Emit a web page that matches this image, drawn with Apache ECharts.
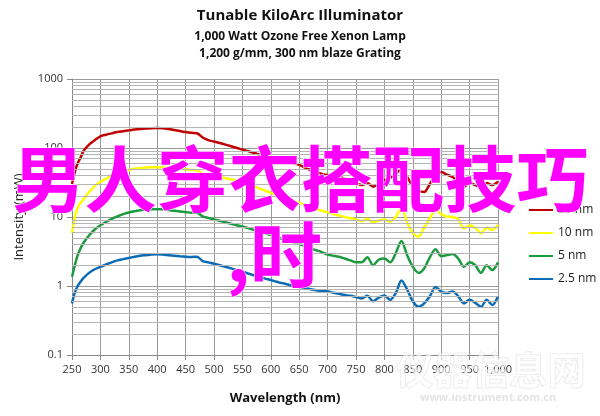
<!DOCTYPE html>
<html>
<head>
<meta charset="utf-8">
<script src="https://cdn.jsdelivr.net/npm/echarts@6/dist/echarts.min.js"></script>
<style>html,body{margin:0;padding:0;background:#fff}#c{width:600px;height:416px}</style>
</head>
<body>
<div id="c"></div>
<script>
var wavelengths = [250,255,260,265,270,280,290,300,310,320,330,340,350,360,370,380,390,400,410,420,430,440,450,460,470,480,490,500,510,520,530,540,550,560,570,580,590,600,610,620,630,640,650,660,670,680,690,700,710,720,730,740,750,760,770,780,790,800,810,820,830,840,850,860,870,880,890,900,910,920,930,940,950,960,970,980,990,1000];
var red20 = [30,45,60,72,90,112,130,148,156,163,170,175,180,185,189,192,194,195,193,188,182,176,170,166,164,142,130,124,118,112,106,100,95,90,85,80,77,74,70,66,63,60,57,52,48,45,42,40.5,39.5,38.5,36,33,31,29,31,27.5,30,34,37,42,50,38,28,24,23,30,40,45,41,38,32,27.5,31,29,27,31,29,32.5];
var yellow10 = [5.8,10,13.5,16,18,23,28,32.5,36,40,43,46,48,50,51,52,52.5,52.5,52,51.5,51,50,49,48,47.5,43,41,39.5,38,36.5,35,33.5,32,30,28,26,24,22.5,21,19.5,18,17,16,15,14,13,12.3,11.7,11,10.5,10,9.6,9.2,8.7,9.4,8.3,8.9,9.2,8.6,10,13.5,8.5,5.8,5.2,7.0,9.5,12.7,11,10.1,10,9.3,6.8,7.5,7.0,5.8,7.0,6.5,7.7];
var green5 = [1.36,2.0,2.8,3.5,4.2,5.4,6.6,7.6,8.5,9.4,10.2,11.0,11.6,12.1,12.5,12.8,12.9,13.0,12.9,12.6,12.3,12.0,11.8,11.5,11.5,10.2,9.7,9.2,8.8,8.4,8.0,7.6,7.3,6.9,6.5,6.1,5.8,5.5,5.1,4.8,4.5,4.3,4.1,3.8,3.5,3.3,3.1,2.85,2.75,2.65,2.5,2.35,2.2,2.2,2.6,2.0,2.4,2.5,2.2,3.0,4.5,2.8,1.9,1.55,1.8,2.6,3.4,2.7,2.8,2.9,2.5,1.9,2.2,2.0,1.55,2.0,1.7,2.2];
var blue25 = [0.56,0.8,1.0,1.15,1.3,1.55,1.75,1.9,2.05,2.2,2.35,2.45,2.55,2.65,2.75,2.8,2.85,2.88,2.85,2.8,2.75,2.7,2.66,2.64,2.66,2.3,2.2,2.1,2.0,1.9,1.8,1.7,1.62,1.52,1.43,1.35,1.28,1.22,1.15,1.1,1.05,1.0,0.97,0.94,0.9,0.87,0.85,0.83,0.8,0.77,0.74,0.72,0.69,0.66,0.72,0.6,0.68,0.73,0.63,0.79,1.2,0.89,0.6,0.5,0.56,0.71,0.97,0.83,0.79,0.83,0.71,0.56,0.63,0.57,0.5,0.63,0.53,0.71];
var seriesNames = ['20 nm','10 nm','5 nm','2.5 nm'];
var minorGrid = [0.2,0.3,0.4,0.5,0.6,0.7,0.8,0.9,2,3,4,5,6,7,8,9,20,30,40,50,60,70,80,90,200,300,400,500,600,700,800,900];
var titleLines = ['Tunable KiloArc Illuminator','1,000 Watt Ozone Free Xenon Lamp','1,200 g/mm, 300 nm blaze Grating'];
var overlayLine1 = '男人穿衣搭配技巧';
var overlayLine2 = ',时';

function pairs(vals){ return wavelengths.map(function(w,i){ return [w, vals[i]]; }); }
var colors = ['#c00000','#ffff00','#1c9a3e','#0b6bb5'];
var valueSets = [red20, yellow10, green5, blue25];

var chart = echarts.init(document.getElementById('c'), null, {renderer:'canvas'});
var series = [{
  name: 'grid', type: 'line', data: [], silent: true,
  markLine: { silent: true, symbol: 'none', label: {show:false}, animation:false,
    lineStyle: {color:'#b4b4b4', width:1, type:'solid'},
    data: minorGrid.map(function(v){ return {yAxis: v}; }) }
}];
seriesNames.forEach(function(n,i){
  series.push({ name:n, type:'line', data: pairs(valueSets[i]), showSymbol:false, symbol:'none',
    smooth: 0.3, lineStyle:{color:colors[i], width:2.5}, itemStyle:{color:colors[i]}, z:3, animation:false });
});
chart.setOption({
  animation: false,
  textStyle: {fontFamily: 'Open Sans'},
  grid: {left:72, right:102, top:79, bottom:61, containLabel:false},
  legend: {data: seriesNames, orient:'vertical', left:524, top:199, itemWidth:24, itemHeight:12, itemGap:11,
    icon: 'path://M0,5 L24,5 L24,7 L0,7 Z',
    textStyle:{fontSize:12, color:'#222', fontFamily:'Open Sans'}},
  xAxis: {type:'value', min:250, max:1000, interval:50,
    name:'Wavelength (nm)', nameLocation:'middle', nameGap:37,
    nameTextStyle:{fontSize:13, fontWeight:'bold', color:'#111'},
    axisLine:{show:true, lineStyle:{color:'#888'}},
    axisTick:{show:true, length:5, lineStyle:{color:'#888'}},
    axisLabel:{fontSize:11, color:'#333', margin:9},
    splitLine:{show:true, lineStyle:{color:'#9a9a9a', width:1}}},
  yAxis: {type:'log', logBase:10, min:0.1, max:1000,
    name:'Intensity (mW)', nameLocation:'middle', nameGap:46, nameRotate:90,
    nameTextStyle:{fontSize:13, color:'#222'},
    axisLine:{show:true, lineStyle:{color:'#888'}},
    axisTick:{show:true, length:5, lineStyle:{color:'#888'}},
    axisLabel:{fontSize:11, color:'#333', margin:9, formatter:function(v){ return String(+v.toPrecision(3)); }},
    splitLine:{show:true, lineStyle:{color:'#9a9a9a', width:1}}},
  series: series,
  graphic: [
    {type:'text', left:'center', top:8, style:{text:titleLines[0], fontSize:15, fontWeight:'bold', fill:'#111', fontFamily:'Open Sans'}},
    {type:'text', left:'center', top:31, style:{text:titleLines[1], fontSize:12, fontWeight:'bold', fill:'#111', fontFamily:'Open Sans'}},
    {type:'text', left:'center', top:48, style:{text:titleLines[2], fontSize:12, fontWeight:'bold', fill:'#111', fontFamily:'Open Sans'}},
    {type:'text', left:395, top:350, z:1, style:{text:'仪器信息网', fontSize:38, fontWeight:'bold', fill:'rgba(255,255,255,0.6)', stroke:'rgba(205,205,205,0.5)', lineWidth:1, fontFamily:'Noto Sans CJK SC'}},
    {type:'text', left:420, top:392, z:1, style:{text:'www.instrument.com.cn', fontSize:11, fontWeight:'bold', fill:'rgba(220,220,220,0.8)', fontFamily:'Open Sans'}},
    {type:'text', left:12, top:142, z:100, style:{text:overlayLine1, fontSize:72, fontWeight:'bold', fill:'#ff00ff', fontFamily:'Noto Sans CJK SC', stroke:'#fff', lineWidth:1}},
    {type:'text', left:226, top:218, z:100, style:{text:overlayLine2, fontSize:72, fontWeight:'bold', fill:'#ff00ff', fontFamily:'Noto Sans CJK SC', stroke:'#fff', lineWidth:1}}
  ]
});
</script>
</body>
</html>
